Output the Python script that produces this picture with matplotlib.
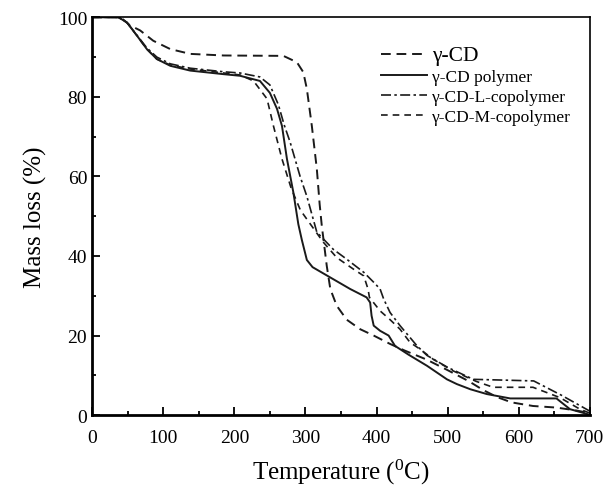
import matplotlib
matplotlib.use('Agg')
import matplotlib.pyplot as plt
from matplotlib.ticker import MultipleLocator

plt.rcParams['font.family'] = ['Liberation Serif', 'DejaVu Serif']
plt.rcParams['mathtext.fontset'] = 'custom'
plt.rcParams['mathtext.rm'] = 'Liberation Serif'

# gamma-CD
cd_t = [0, 40, 53, 67.5, 86, 110, 138, 185, 269, 288, 297, 302, 309, 316, 320, 323, 330,
        335, 344, 358, 377, 396, 419, 440, 470, 500, 530, 550, 570, 590, 620, 653, 680, 700]
cd_m = [100, 100, 98, 96.7, 94.1, 92, 90.8, 90.4, 90.3, 88.7, 86.2, 82, 72.7, 61.9, 53, 47.6, 37.5,
        31.7, 27.5, 24, 21.6, 20, 17.9, 16.2, 14, 11.3, 8.5, 6.3, 4.5, 3.2, 2.3, 1.9, 1.2, 0.5]

# gamma-CD polymer
pol_t = [0, 37, 49, 63, 77, 91, 110, 138, 185, 208, 236, 250, 260, 267, 274, 283, 290,
         295, 302, 310, 335, 363, 386, 391, 393, 396, 405, 417, 426, 445, 471, 499, 513,
         532, 555, 588, 653, 672, 696, 700]
pol_m = [100, 100, 98.7, 95.4, 92, 89.5, 87.8, 86.6, 85.7, 85.3, 84, 81, 77, 72.7, 64.4, 56, 48,
         44, 39, 37.2, 34.6, 31.7, 29.6, 28.3, 25, 22.5, 21.2, 20, 17.4, 15.2, 12.4, 9, 7.8,
         6.5, 5.3, 4.2, 4.2, 1.5, 0.3, 0]

# gamma-CD-L-copolymer
l_t = [0, 37, 49, 63, 77, 91, 110, 138, 185, 208, 236, 250, 262, 270, 278.5, 292.5, 302,
       316, 339, 358, 382, 396, 405, 410, 419, 433, 457, 471, 500, 536, 580, 621, 660, 700]
l_m = [100, 100, 98.7, 95.5, 92.3, 90, 88.3, 87.2, 86.3, 86, 85, 83, 78, 73, 68.6, 60, 55,
       46, 41.7, 39.2, 35.9, 33.4, 31.7, 29.2, 25.8, 22.5, 17.4, 15, 12, 9, 8.8, 8.6, 5, 1]

# gamma-CD-M-copolymer
m_t = [0, 37, 49, 63, 77, 91, 110, 138, 185, 208, 227, 246, 255, 267, 280, 293, 307, 325,
       344, 367.5, 382, 388, 390, 405, 419, 433, 447, 461, 480, 508, 540, 564, 620, 658, 686, 700]
m_m = [100, 100, 98.7, 95.4, 92, 89.5, 88, 87, 86, 85.5, 84, 79.5, 72.7, 64.4, 57, 51.5, 48, 43.5,
       39.6, 36.7, 35, 31.7, 29.6, 26.2, 24, 21.6, 18.3, 16.6, 14, 11.1, 8.5, 7, 7, 4.4, 1.5, 0.5]

fig = plt.figure(figsize=(6.1, 4.89), dpi=100)
ax = fig.add_axes([0.151, 0.149, 0.816, 0.8136])

ax.plot(cd_t, cd_m, color='#1a1a1a', lw=1.4, ls=(0, (5, 3)), label='γ-CD')
ax.plot(pol_t, pol_m, color='#1a1a1a', lw=1.4, ls='-', label='γ-CD polymer')
ax.plot(l_t, l_m, color='#1a1a1a', lw=1.2, ls=(0, (6, 2, 1.5, 2)), label='γ-CD-L-copolymer')
ax.plot(m_t, m_m, color='#1a1a1a', lw=1.2, ls=(0, (4, 3)), label='γ-CD-M-copolymer')

ax.set_xlim(0, 700)
ax.set_ylim(0, 100)
ax.xaxis.set_major_locator(MultipleLocator(100))
ax.xaxis.set_minor_locator(MultipleLocator(50))
ax.yaxis.set_major_locator(MultipleLocator(20))
ax.yaxis.set_minor_locator(MultipleLocator(10))
ax.tick_params(which='both', direction='in', top=False, right=False, labelsize=14, width=1.3)
ax.tick_params(which='major', length=6)
ax.tick_params(which='minor', length=3)
ax.tick_params(axis='x', pad=10)

for s in ['left', 'bottom']:
    ax.spines[s].set_linewidth(2)
for s in ['top', 'right']:
    ax.spines[s].set_linewidth(1.2)

ax.set_xlabel('Temperature ($\\mathregular{^0}$C)', fontsize=18, labelpad=8)
ax.set_ylabel('Mass loss (%)', fontsize=18, labelpad=8)

leg = ax.legend(loc='upper left', bbox_to_anchor=(0.58, 0.928), frameon=False,
                borderpad=0, borderaxespad=0,
                fontsize=12.5, handlelength=2.65, handletextpad=0.3, labelspacing=0.22)
leg.get_texts()[0].set_fontsize(15.5)

fig.savefig('out.png', dpi=100)
